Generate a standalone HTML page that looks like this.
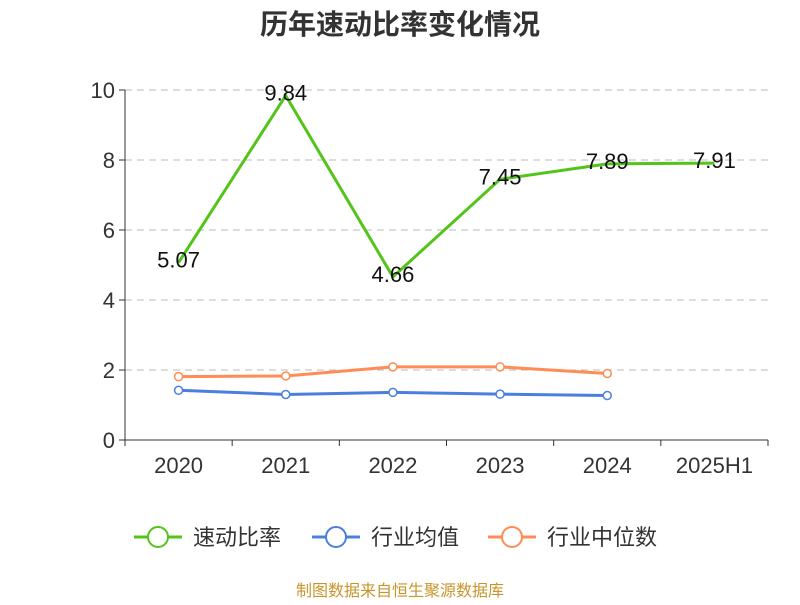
<!DOCTYPE html>
<html><head><meta charset="utf-8"><style>
body{margin:0;background:#fff;font-family:"Liberation Sans","Noto Sans CJK SC",sans-serif;}
</style></head><body>
<svg width="800" height="600" xmlns="http://www.w3.org/2000/svg" style="font-family:'Liberation Sans','Noto Sans CJK SC',sans-serif">
<text x="400" y="34" text-anchor="middle" font-size="28" font-weight="bold" fill="#333">历年速动比率变化情况</text>
<g id="grid"></g><g id="axes"></g><g id="series"></g>
<g font-size="22" fill="#333">
<g><line x1="134" y1="537" x2="182" y2="537" stroke="#52c41a" stroke-width="3"/><circle cx="158" cy="537" r="10" fill="#fff" stroke="#52c41a" stroke-width="2"/><text x="193" y="545">速动比率</text></g>
<g><line x1="312" y1="537" x2="360" y2="537" stroke="#4a7fe0" stroke-width="3"/><circle cx="336" cy="537" r="10" fill="#fff" stroke="#4a7fe0" stroke-width="2"/><text x="371" y="545">行业均值</text></g>
<g><line x1="488" y1="537" x2="536" y2="537" stroke="#ff8c55" stroke-width="3"/><circle cx="512" cy="537" r="10" fill="#fff" stroke="#ff8c55" stroke-width="2"/><text x="547" y="545">行业中位数</text></g>
</g>
<text x="400" y="596" text-anchor="middle" font-size="16" fill="#c8952a">制图数据来自恒生聚源数据库</text>
</svg>
<script>
const categories=["2020","2021","2022","2023","2024","2025H1"];
const quickRatio=[5.07,9.84,4.66,7.45,7.89,7.91];
const industryAvg=[1.42,1.30,1.36,1.31,1.27];
const industryMedian=[1.81,1.83,2.09,2.09,1.90];
const yTicks=[0,2,4,6,8,10];
const NS="http://www.w3.org/2000/svg";
const L=125,R=768,T=90,B=440,band=(R-L)/categories.length;
const xs=i=>L+band*(i+0.5);
const ys=v=>B-(v/10)*(B-T);
function mk(tag,attrs,parent){const e=document.createElementNS(NS,tag);for(const k in attrs)e.setAttribute(k,attrs[k]);parent.appendChild(e);return e;}
const grid=document.getElementById('grid'),axes=document.getElementById('axes'),ser=document.getElementById('series');
yTicks.forEach(t=>{
 if(t>0){const g=mk('line',{x1:L,x2:R,y1:ys(t),y2:ys(t),stroke:'#bbb','stroke-dasharray':'7,5'},grid);
 
 }
 const tk=mk('line',{x1:L-6,x2:L,y1:ys(t),y2:ys(t),stroke:'#333'},axes);
 
 
 const tx=mk('text',{x:L-10,y:ys(t)+8,'text-anchor':'end','font-size':'22',fill:'#333'},axes);tx.textContent=t;
 
 
});
const ya=mk('line',{x1:L,x2:L,y1:T,y2:B,stroke:'#333'},axes);


const xa=mk('line',{x1:L,x2:R,y1:B,y2:B,stroke:'#333'},axes);


for(let i=0;i<=categories.length;i++){const t=mk('line',{x1:L+band*i,x2:L+band*i,y1:B,y2:B+6,stroke:'#333'},axes);
 
 }
categories.forEach((c,i)=>{const t=mk('text',{x:xs(i),y:B+33,'text-anchor':'middle','font-size':'22',fill:'#333'},axes);t.textContent=c;
 
 });
function line(data,color,name,markers){
 const p=mk('polyline',{points:data.map((v,i)=>xs(i)+','+ys(v)).join(' '),fill:'none',stroke:color,'stroke-width':3},ser);
 
 
 if(markers)data.forEach((v,i)=>{const c=mk('circle',{cx:xs(i),cy:ys(v),r:4,fill:'#fff',stroke:color,'stroke-width':1.5},ser);
  
  });
}
line(industryMedian,'#ff8c55','industry-median',true);
line(industryAvg,'#4a7fe0','industry-avg',true);
line(quickRatio,'#52c41a','quick-ratio',false);
quickRatio.forEach((v,i)=>{const t=mk('text',{x:xs(i),y:ys(v)+5,'text-anchor':'middle','font-size':'22',fill:'#111'},ser);t.textContent=v.toFixed(2);
 
 });
</script>
</body></html>
